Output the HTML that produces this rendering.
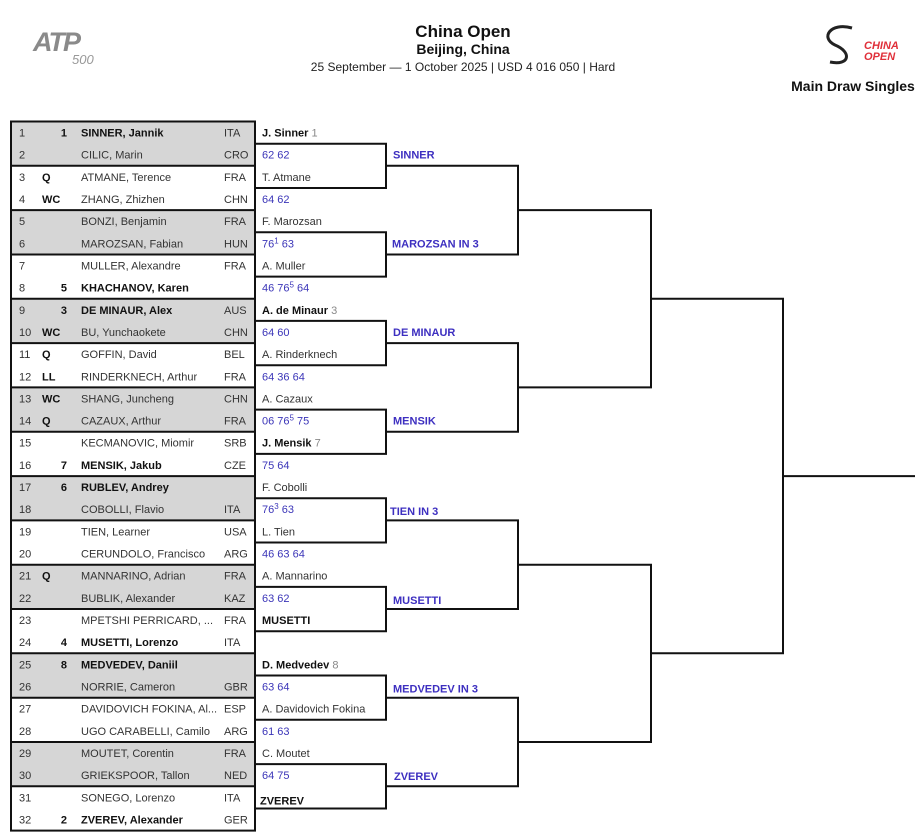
<!DOCTYPE html>
<html><head><meta charset="utf-8"><style>
html,body{margin:0;padding:0;background:#fff;}
svg{display:block;font-family:"Liberation Sans",sans-serif;}
.t{font-size:11px;fill:#333;}
.b{font-weight:bold;fill:#111;}
.s{font-size:11px;fill:#3b35b8;}
.w{font-size:11px;fill:#3d2fc0;font-weight:bold;}
.g{fill:#888;font-weight:normal;}
.r{text-anchor:end;}
</style></head><body>
<svg width="921" height="837" viewBox="0 0 921 837" xmlns="http://www.w3.org/2000/svg">
<!-- header -->
<text x="33" y="51" font-size="27" font-weight="bold" font-style="italic" fill="#8a8a8a" letter-spacing="-2">ATP</text>
<text x="72" y="64" font-size="13" font-style="italic" fill="#999">500</text>
<text x="463" y="37" font-size="17" font-weight="bold" text-anchor="middle" fill="#111">China Open</text>
<text x="463" y="54" font-size="14" font-weight="bold" text-anchor="middle" fill="#111">Beijing, China</text>
<text x="463" y="71" font-size="12" text-anchor="middle" fill="#222">25 September — 1 October 2025 | USD 4 016 050 | Hard</text>
<path d="M852 28 C830 22 820 38 835 45 C852 52 850 66 830 62" fill="none" stroke="#222" stroke-width="3"/>
<text x="864" y="49" font-size="11" font-weight="bold" font-style="italic" fill="#e0303a">CHINA</text>
<text x="864" y="60" font-size="11" font-weight="bold" font-style="italic" fill="#e0303a">OPEN</text>
<text x="853" y="91" font-size="14" font-weight="bold" text-anchor="middle" fill="#111">Main Draw Singles</text>

<!-- table shading -->
<g fill="#d6d6d6">
<rect x="11" y="121.5" width="244" height="44.3"/>
<rect x="11" y="210.1" width="244" height="44.4"/>
<rect x="11" y="298.8" width="244" height="44.3"/>
<rect x="11" y="387.4" width="244" height="44.3"/>
<rect x="11" y="476.1" width="244" height="44.3"/>
<rect x="11" y="564.7" width="244" height="44.3"/>
<rect x="11" y="653.3" width="244" height="44.4"/>
<rect x="11" y="742.0" width="244" height="44.3"/>
</g>
<g stroke="#111" stroke-width="2" fill="none">
<rect x="11" y="121.5" width="244" height="709.1"/>
<path d="M11 165.8H255M11 210.1H255M11 254.5H255M11 298.8H255M11 343.1H255M11 387.4H255M11 431.7H255M11 476.1H255M11 520.4H255M11 564.7H255M11 609.0H255M11 653.3H255M11 697.7H255M11 742.0H255M11 786.3H255"/>
<!-- R1 -->
<path d="M255 143.7H386V188.0H255M255 232.3H386V276.6H255M255 320.9H386V365.3H255M255 409.6H386V453.9H255M255 498.2H386V542.5H255M255 586.9H386V631.2H255M255 675.5H386V719.8H255M255 764.1H386V808.5H255"/>
<!-- R2 -->
<path d="M386 165.8H518V254.5H386M386 343.1H518V431.7H386M386 520.4H518V609.0H386M386 697.7H518V786.3H386"/>
<path d="M518 210.1H651V387.4H518M518 564.7H651V742.0H518"/>
<path d="M651 298.8H783V653.3H651"/>
<path d="M783 476.1H915"/>
</g>

<!-- table text -->
<g class="t">
<text x="19" y="136.5">1</text><text x="67" y="136.5" class="b r">1</text><text x="81" y="136.5" class="b">SINNER, Jannik</text><text x="224" y="136.5">ITA</text>
<text x="19" y="158.7">2</text><text x="81" y="158.7">CILIC, Marin</text><text x="224" y="158.7">CRO</text>
<text x="19" y="180.8">3</text><text x="42" y="180.8" class="b">Q</text><text x="81" y="180.8">ATMANE, Terence</text><text x="224" y="180.8">FRA</text>
<text x="19" y="203.0">4</text><text x="42" y="203.0" class="b">WC</text><text x="81" y="203.0">ZHANG, Zhizhen</text><text x="224" y="203.0">CHN</text>
<text x="19" y="225.1">5</text><text x="81" y="225.1">BONZI, Benjamin</text><text x="224" y="225.1">FRA</text>
<text x="19" y="247.3">6</text><text x="81" y="247.3">MAROZSAN, Fabian</text><text x="224" y="247.3">HUN</text>
<text x="19" y="269.5">7</text><text x="81" y="269.5">MULLER, Alexandre</text><text x="224" y="269.5">FRA</text>
<text x="19" y="291.6">8</text><text x="67" y="291.6" class="b r">5</text><text x="81" y="291.6" class="b">KHACHANOV, Karen</text>
<text x="19" y="313.8">9</text><text x="67" y="313.8" class="b r">3</text><text x="81" y="313.8" class="b">DE MINAUR, Alex</text><text x="224" y="313.8">AUS</text>
<text x="19" y="335.9">10</text><text x="42" y="335.9" class="b">WC</text><text x="81" y="335.9">BU, Yunchaokete</text><text x="224" y="335.9">CHN</text>
<text x="19" y="358.1">11</text><text x="42" y="358.1" class="b">Q</text><text x="81" y="358.1">GOFFIN, David</text><text x="224" y="358.1">BEL</text>
<text x="19" y="380.3">12</text><text x="42" y="380.3" class="b">LL</text><text x="81" y="380.3">RINDERKNECH, Arthur</text><text x="224" y="380.3">FRA</text>
<text x="19" y="402.4">13</text><text x="42" y="402.4" class="b">WC</text><text x="81" y="402.4">SHANG, Juncheng</text><text x="224" y="402.4">CHN</text>
<text x="19" y="424.6">14</text><text x="42" y="424.6" class="b">Q</text><text x="81" y="424.6">CAZAUX, Arthur</text><text x="224" y="424.6">FRA</text>
<text x="19" y="446.7">15</text><text x="81" y="446.7">KECMANOVIC, Miomir</text><text x="224" y="446.7">SRB</text>
<text x="19" y="468.9">16</text><text x="67" y="468.9" class="b r">7</text><text x="81" y="468.9" class="b">MENSIK, Jakub</text><text x="224" y="468.9">CZE</text>
<text x="19" y="491.1">17</text><text x="67" y="491.1" class="b r">6</text><text x="81" y="491.1" class="b">RUBLEV, Andrey</text>
<text x="19" y="513.2">18</text><text x="81" y="513.2">COBOLLI, Flavio</text><text x="224" y="513.2">ITA</text>
<text x="19" y="535.4">19</text><text x="81" y="535.4">TIEN, Learner</text><text x="224" y="535.4">USA</text>
<text x="19" y="557.5">20</text><text x="81" y="557.5">CERUNDOLO, Francisco</text><text x="224" y="557.5">ARG</text>
<text x="19" y="579.7">21</text><text x="42" y="579.7" class="b">Q</text><text x="81" y="579.7">MANNARINO, Adrian</text><text x="224" y="579.7">FRA</text>
<text x="19" y="601.9">22</text><text x="81" y="601.9">BUBLIK, Alexander</text><text x="224" y="601.9">KAZ</text>
<text x="19" y="624.0">23</text><text x="81" y="624.0">MPETSHI PERRICARD, ...</text><text x="224" y="624.0">FRA</text>
<text x="19" y="646.2">24</text><text x="67" y="646.2" class="b r">4</text><text x="81" y="646.2" class="b">MUSETTI, Lorenzo</text><text x="224" y="646.2">ITA</text>
<text x="19" y="668.3">25</text><text x="67" y="668.3" class="b r">8</text><text x="81" y="668.3" class="b">MEDVEDEV, Daniil</text>
<text x="19" y="690.5">26</text><text x="81" y="690.5">NORRIE, Cameron</text><text x="224" y="690.5">GBR</text>
<text x="19" y="712.7">27</text><text x="81" y="712.7">DAVIDOVICH FOKINA, Al...</text><text x="224" y="712.7">ESP</text>
<text x="19" y="734.8">28</text><text x="81" y="734.8">UGO CARABELLI, Camilo</text><text x="224" y="734.8">ARG</text>
<text x="19" y="757.0">29</text><text x="81" y="757.0">MOUTET, Corentin</text><text x="224" y="757.0">FRA</text>
<text x="19" y="779.1">30</text><text x="81" y="779.1">GRIEKSPOOR, Tallon</text><text x="224" y="779.1">NED</text>
<text x="19" y="801.3">31</text><text x="81" y="801.3">SONEGO, Lorenzo</text><text x="224" y="801.3">ITA</text>
<text x="19" y="823.5">32</text><text x="67" y="823.5" class="b r">2</text><text x="81" y="823.5" class="b">ZVEREV, Alexander</text><text x="224" y="823.5">GER</text>
</g>

<!-- R1 results -->
<g class="t">
<text x="262" y="136.5" class="b">J. Sinner <tspan class="g">1</tspan></text>
<text x="262" y="158.7" class="s">62 62</text>
<text x="262" y="180.8">T. Atmane</text>
<text x="262" y="203.0" class="s">64 62</text>
<text x="262" y="225.1">F. Marozsan</text>
<text x="262" y="247.3" class="s">76<tspan dy="-4" font-size="8">1</tspan><tspan dy="4"> 63</tspan></text>
<text x="262" y="269.5">A. Muller</text>
<text x="262" y="291.6" class="s">46 76<tspan dy="-4" font-size="8">5</tspan><tspan dy="4"> 64</tspan></text>
<text x="262" y="313.8" class="b">A. de Minaur <tspan class="g">3</tspan></text>
<text x="262" y="335.9" class="s">64 60</text>
<text x="262" y="358.1">A. Rinderknech</text>
<text x="262" y="380.3" class="s">64 36 64</text>
<text x="262" y="402.4">A. Cazaux</text>
<text x="262" y="424.6" class="s">06 76<tspan dy="-4" font-size="8">5</tspan><tspan dy="4"> 75</tspan></text>
<text x="262" y="446.7" class="b">J. Mensik <tspan class="g">7</tspan></text>
<text x="262" y="468.9" class="s">75 64</text>
<text x="262" y="491.1">F. Cobolli</text>
<text x="262" y="513.2" class="s">76<tspan dy="-4" font-size="8">3</tspan><tspan dy="4"> 63</tspan></text>
<text x="262" y="535.4">L. Tien</text>
<text x="262" y="557.5" class="s">46 63 64</text>
<text x="262" y="579.7">A. Mannarino</text>
<text x="262" y="601.9" class="s">63 62</text>
<text x="262" y="624.0" class="b">MUSETTI</text>
<text x="262" y="668.3" class="b">D. Medvedev <tspan class="g">8</tspan></text>
<text x="262" y="690.5" class="s">63 64</text>
<text x="262" y="712.7">A. Davidovich Fokina</text>
<text x="262" y="734.8" class="s">61 63</text>
<text x="262" y="757.0">C. Moutet</text>
<text x="262" y="779.1" class="s">64 75</text>
<text x="260" y="804.3" class="b">ZVEREV</text>
</g>
<!-- R2 winners -->
<g class="w">
<text x="393" y="158.7">SINNER</text>
<text x="392" y="247.3">MAROZSAN IN 3</text>
<text x="393" y="335.9">DE MINAUR</text>
<text x="393" y="424.6">MENSIK</text>
<text x="390" y="515.2">TIEN IN 3</text>
<text x="393" y="603.9">MUSETTI</text>
<text x="393" y="692.5">MEDVEDEV IN 3</text>
<text x="394" y="780.1">ZVEREV</text>
</g>
</svg>
</body></html>
